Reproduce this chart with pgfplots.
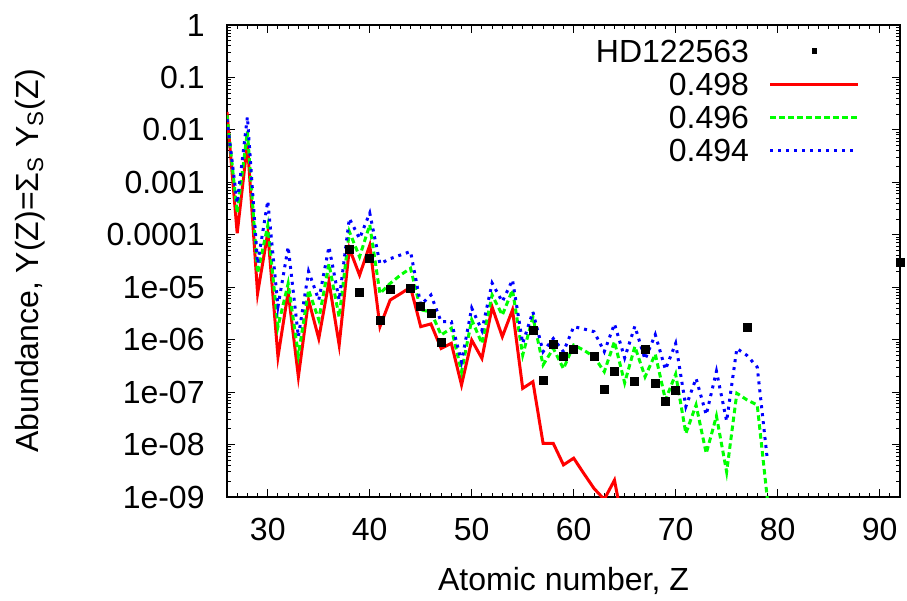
\documentclass[border=0pt]{standalone}
\usepackage{fontspec}
\setmainfont{Liberation Sans}
\usepackage{pgfplots}
\pgfplotsset{compat=1.18}
\definecolor{gpred}{RGB}{255,0,0}
\definecolor{gpgreen}{RGB}{0,255,0}
\definecolor{gpblue}{RGB}{0,0,255}
\newcommand{\fs}{\fontsize{16}{18}\selectfont}
\pgfplotsset{
  gp line legend/.style={legend image code/.code={\path (0pt,0pt); \draw[##1] (10pt,0pt) -- (54pt,0pt);}},
  gp mark legend/.style={legend image code/.code={\path (0pt,0pt) (54pt,0pt); \fill[black] (30.8pt,-1.2pt) rectangle (33.2pt,1.2pt);}},
}
\begin{document}
\begin{tikzpicture}
\path[use as bounding box] (-113.5pt,-52pt) rectangle (340pt,248.5pt);
\begin{axis}[
  at={(0,0)}, anchor=south west,
  scale only axis, width=336.5pt, height=236pt,
  xmin=26, xmax=92, ymode=log, ymin=1e-9, ymax=1,
  xtick={30,40,50,60,70,80,90},
  xticklabels={30,40,50,60,70,80,90},
  minor xtick={27,28,29,31,32,33,34,35,36,37,38,39,41,42,43,44,45,46,47,48,49,51,52,53,54,55,56,57,58,59,61,62,63,64,65,66,67,68,69,71,72,73,74,75,76,77,78,79,81,82,83,84,85,86,87,88,89,91},
  ytick={1e-9,1e-8,1e-7,1e-6,1e-5,1e-4,1e-3,1e-2,1e-1,1},
  yticklabels={1e-09,1e-08,1e-07,1e-06,1e-05,0.0001,0.001,0.01,0.1,1},
  minor ytick={2e-9,3e-9,4e-9,5e-9,6e-9,7e-9,8e-9,9e-9,
    2e-8,3e-8,4e-8,5e-8,6e-8,7e-8,8e-8,9e-8,
    2e-7,3e-7,4e-7,5e-7,6e-7,7e-7,8e-7,9e-7,
    2e-6,3e-6,4e-6,5e-6,6e-6,7e-6,8e-6,9e-6,
    2e-5,3e-5,4e-5,5e-5,6e-5,7e-5,8e-5,9e-5,
    2e-4,3e-4,4e-4,5e-4,6e-4,7e-4,8e-4,9e-4,
    2e-3,3e-3,4e-3,5e-3,6e-3,7e-3,8e-3,9e-3,
    2e-2,3e-2,4e-2,5e-2,6e-2,7e-2,8e-2,9e-2,
    0.2,0.3,0.4,0.5,0.6,0.7,0.8,0.9},
  tick align=inside,
  major tick length=4pt, minor tick length=2pt,
  tick style={black, line width=0.5pt},
  axis line style={line width=1pt},
  xticklabel style={font=\fs, anchor=north, inner sep=0pt, yshift=-10.5pt},
  yticklabel style={font=\fs, anchor=east, inner sep=0pt, xshift=-11pt},
  xlabel={Atomic number, Z},
  ylabel={Abundance, Y(Z)=Σ\textsubscript{S} Y\textsubscript{S}(Z)},
  xlabel style={font=\fs, at={(axis description cs:0.5,0)}, anchor=north, inner sep=0pt, yshift=-35pt},
  ylabel style={font=\fs, at={(axis description cs:-0.2808,0.5)}, anchor=base, inner sep=0pt},
  legend cell align=right,
  legend plot pos=right,
  legend style={at={(1,1)}, anchor=north east, xshift=-20pt, yshift=-4.75pt,
    draw=none, fill=none, inner sep=0pt, outer sep=0pt, font=\fs, row sep=0pt,
    nodes={inner sep=0pt, text height=13.75pt, text depth=2.75pt}},
  clip=true,
]
\addplot[only marks, mark=square*, mark size=2pt, black, gp mark legend]
  coordinates {
  (38,5.3e-5) (39,8.0e-6) (40,3.5e-5) (41,2.3e-6) (42,9.1e-6) (44,9.5e-6)
  (45,4.4e-6) (46,3.2e-6) (47,8.9e-7) (56,1.5e-6) (57,1.7e-7) (58,8.3e-7)
  (59,4.7e-7) (60,6.5e-7) (62,4.7e-7) (63,1.15e-7) (64,2.45e-7) (66,1.6e-7)
  (67,6.6e-7) (68,1.47e-7) (69,6.8e-8) (70,1.1e-7) (77,1.7e-6) (92,3.0e-5)
  };
\addlegendentry{HD122563}
\addplot[gpred, line width=1.5pt, gp line legend]
  coordinates {
  (26,0.022) (27,1.07e-4) (28,5.5e-3) (29,7.6e-6) (30,1.1e-4) (31,4.7e-7)
  (32,8.2e-6) (33,1.96e-7) (34,5.7e-6) (35,1.05e-6) (36,1.28e-5) (37,7.9e-7)
  (38,5.5e-5) (39,1.7e-5) (40,6.3e-5) (41,1.77e-6) (42,5.7e-6) (43,7.5e-6)
  (44,1.0e-5) (45,1.77e-6) (46,2.0e-6) (47,6.8e-7) (48,8.5e-7) (49,1.37e-7)
  (50,9.8e-7) (51,4.4e-7) (52,4.2e-6) (53,1.14e-6) (54,3.7e-6) (55,1.18e-7)
  (56,1.58e-7) (57,1.05e-8) (58,1.05e-8) (59,4.1e-9) (60,5.5e-9) (61,2.8e-9)
  (62,1.45e-9) (63,9e-10) (64,2.1e-9) (65,2e-10)
  };
\addlegendentry{0.498}
\addplot[gpgreen, line width=1.5pt, dash pattern=on 2.75pt off 1.75pt, gp line legend]
  coordinates {
  (26,0.019) (27,2.6e-4) (28,9.3e-3) (29,1.85e-5) (30,1.5e-4) (31,1.77e-6)
  (32,1.18e-5) (33,5.1e-7) (34,8.9e-6) (35,2.4e-6) (36,2.8e-5) (37,2.7e-6)
  (38,1.15e-4) (39,3.8e-5) (40,1.55e-4) (41,7.6e-6) (42,1.18e-5) (43,1.7e-5)
  (44,2.3e-5) (45,3.7e-6) (46,3.4e-6) (47,1.23e-6) (48,1.65e-6) (49,2.45e-7)
  (50,2.4e-6) (51,8.5e-7) (52,7.1e-6) (53,2.95e-6) (54,8.9e-6) (55,5.1e-7)
  (56,2.7e-6) (57,3.3e-7) (58,6.8e-7) (59,2.8e-7) (60,7.9e-7) (61,6.3e-7)
  (62,4.7e-7) (63,2.45e-7) (64,9.2e-7) (65,1.5e-7) (66,7.4e-7) (67,1.96e-7)
  (68,5.3e-7) (69,7.1e-8) (70,2.2e-7) (71,1.63e-8) (72,5.7e-8) (73,6.8e-9)
  (74,3.5e-8) (75,3.0e-9) (76,9.5e-8) (77,7.1e-8) (78,5.7e-8) (79,9e-10)
  };
\addlegendentry{0.496}
\addplot[gpblue, line width=1.5pt, dash pattern=on 1.5pt off 2.5pt, gp line legend]
  coordinates {
  (26,0.016) (27,4e-4) (28,0.0177) (29,2.8e-5) (30,4.4e-4) (31,4.3e-6)
  (32,5.9e-5) (33,1.14e-6) (34,2.0e-5) (35,5.7e-6) (36,5.9e-5) (37,5.7e-6)
  (38,2.05e-4) (39,8.5e-5) (40,2.6e-4) (41,2.8e-5) (42,3.5e-5) (43,4.1e-5)
  (44,4.8e-5) (45,4.6e-6) (46,7.1e-6) (47,2.2e-6) (48,2.2e-6) (49,3.8e-7)
  (50,4.0e-6) (51,1.5e-6) (52,1.2e-5) (53,5.3e-6) (54,1.38e-5) (55,8.5e-7)
  (56,3.4e-6) (57,5.9e-7) (58,1.05e-6) (59,5.9e-7) (60,1.77e-6) (61,1.6e-6)
  (62,1.42e-6) (63,5.9e-7) (64,2.0e-6) (65,4.5e-7) (66,1.8e-6) (67,4.2e-7)
  (68,1.25e-6) (69,2.7e-7) (70,8.5e-7) (71,5.3e-8) (72,1.83e-7) (73,3.7e-8)
  (74,2.5e-7) (75,2.8e-8) (76,6.8e-7) (77,5.0e-7) (78,3.0e-7) (79,5e-9)
  };
\addlegendentry{0.494}
\end{axis}
\end{tikzpicture}
\end{document}
